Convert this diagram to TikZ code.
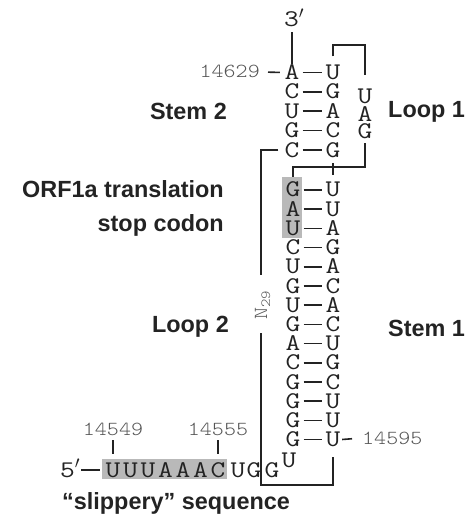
\documentclass[tikz,border=0pt]{standalone}
\usepackage{fontspec}
\usepackage{tikz}
\usetikzlibrary{positioning}
\newfontfamily\labelfont{Liberation Sans}
\newfontfamily\nucfont{Latin Modern Mono}[FakeStretch=1.2]
\newfontfamily\idxfont{Latin Modern Mono Light}[FakeStretch=1.15]
\definecolor{NGray}{RGB}{35,35,35}
\definecolor{IGray}{RGB}{85,85,85}
\definecolor{BoxGray}{RGB}{185,185,185}
\tikzset{
  nuc/.style={inner sep=0pt, text=NGray, text height=14bp, text depth=0pt,
    font=\fontsize{24}{24}\selectfont\nucfont},
  idx/.style={inner sep=0pt, text=IGray, text height=12bp, text depth=0pt,
    font=\fontsize{20}{20}\selectfont\idxfont},
  tag/.style={inner sep=0pt, text=NGray,
    font=\fontsize{23.5}{34}\selectfont\labelfont\bfseries},
  bond/.style={draw=NGray, line width=1.6bp},
}

\begin{document}
\begin{tikzpicture}[x=1bp,y=-1bp]
  \useasboundingbox (0,0) rectangle (471,517);
  % highlighted bases
  \fill[BoxGray] (282,177) rectangle (302,238);
  \fill[BoxGray] (102,459) rectangle (227,479);

  % stem 2
  \foreach \l/\r [count=\i] in {A/U,C/G,U/A,G/C,C/G}{
    \node[nuc] (s2l\i) at (292,{72.5+19.4*(\i-1)}) {\l};
    \node[nuc] (s2r\i) at (333,{72.5+19.4*(\i-1)}) {\r};
    \draw[bond, shorten <=3bp, shorten >=3bp] (s2l\i.east) -- (s2r\i.west);
  }
  % stem 1
  \foreach \l/\r [count=\i] in {G/U,A/U,U/A,C/G,U/A,G/C,U/A,G/C,A/U,C/G,G/C,G/U,G/U,G/U}{
    \node[nuc] (s1l\i) at (293,{190+19.2*(\i-1)}) {\l};
    \node[nuc] (s1r\i) at (333,{190+19.2*(\i-1)}) {\r};
    \draw[bond, shorten <=3bp, shorten >=3bp] (s1l\i.east) -- (s1r\i.west);
  }
  % loop 1
  \foreach \b/\y [count=\i] in {U/97,A/115,G/132}
    \node[nuc] (l1n\i) at (365,\y) {\b};

  % 3' end
  \node[nuc, anchor=west] (end3) at (284,20) {3$'$};
  \draw[bond, shorten <=5bp, shorten >=1bp] (s2l1.north |- end3.south) -- (s2l1.north);

  % 5' end and slippery sequence
  \node[nuc, anchor=west] (end5) at (60,470) {5$'$};
  \foreach \b [count=\i] in {U,U,U,A,A,A,C}
    \node[nuc] (sl\i) at ({113+17.5*(\i-1)},470) {\b};
  \node[nuc] (sl8) at (238,470) {U};
  \node[nuc] (sl9) at (254,470) {G};
  \node[nuc] (sl10) at (272,470) {G};
  \node[nuc] (sl11) at (289,460) {U};
  \draw[bond, shorten <=1bp, shorten >=5bp] (end5.east) -- (sl1.west);

  % positions
  \node[idx, anchor=east] (i14629) at (260,72) {14629};
  \node[idx, anchor=west] (i14595) at (362,438) {14595};
  \node[idx] (i14549) at (113,429) {14549};
  \node[idx] (i14555) at (218,429) {14555};
  \draw[bond, shorten <=8bp, shorten >=4.5bp] (i14629.east) -- (s2l1.west);
  \draw[bond, shorten <=1.5bp, shorten >=10bp] (s1r14.east) -- (i14595.west);
  \draw[bond, shorten <=5bp, shorten >=9bp] (i14549.south) -- (sl1.north);
  \draw[bond, shorten <=5bp, shorten >=9bp] (i14555.south) -- (sl7.north);

  % loop 1 backbone
  \draw[bond, shorten <=9bp, shorten >=15bp] (s2r1.north) -- ++(0,-20.5) -| (l1n1.north);
  \draw[bond, shorten <=4bp, shorten >=6bp] (l1n3.south) -- ++(0,28) -| (s1l1.north);
  \draw[bond] ([yshift=-6bp]s2r5.south) -- ([yshift=8bp]s1r1.north);

  % loop 2
  \node[idx, rotate=90] (n29) at (261,305) {N\textsubscript{29}};
  \draw[bond, shorten <=6bp] (s2l5.west) -| ([yshift=30bp]n29.center);
  \draw[bond] ([yshift=-28bp]n29.center) -- ++(0,152) -| ([yshift=-10bp]s1r14.south);

  % labels
  \node[tag, anchor=east] (stem2) at (227,111) {Stem 2};
  \node[tag, anchor=west] (loop1) at (388,112) {Loop 1};
  \node[tag, anchor=north east, align=right] (orf) at (224,180) {ORF1a translation\\stop codon};
  \node[tag, anchor=east] (loop2) at (229,327) {Loop 2};
  \node[tag, anchor=west] (stem1) at (388,328) {Stem 1};
  \node[tag, anchor=west] (slip) at (62,503) {“slippery” sequence};
\end{tikzpicture}
\end{document}
